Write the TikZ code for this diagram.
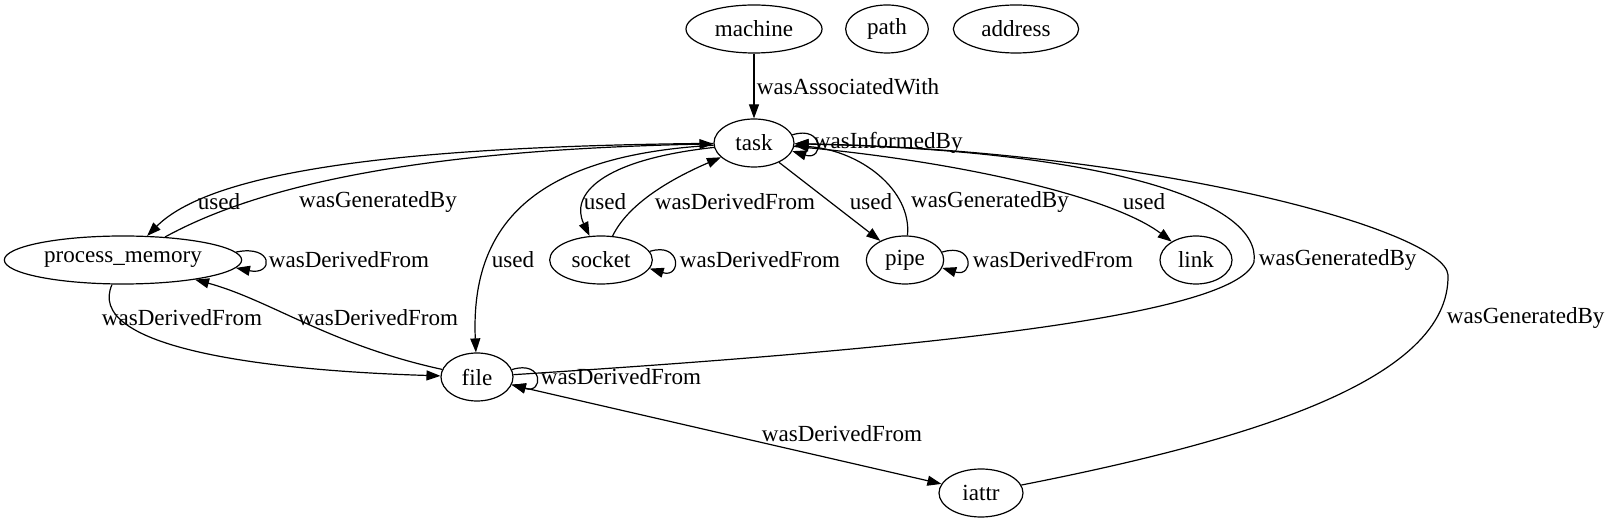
\documentclass[tikz,border=0pt]{standalone}
\usepackage{fontspec}
\setmainfont{Liberation Serif}
\usetikzlibrary{arrows.meta,shapes.geometric}

\begin{document}
\begin{tikzpicture}[x=0.75pt, y=-0.75pt,
    every node/.style={font=\fontsize{17.3pt}{20pt}\selectfont},
    ent/.style={draw, ellipse, inner sep=0pt, minimum height=36pt, line width=0.9pt},
    lbl/.style={inner sep=1pt},
    arr/.style={line width=0.9pt, -{Triangle[length=10.5pt, width=7.5pt]}},
    arrboth/.style={line width=0.9pt,
      {Triangle[length=10.5pt, width=7.5pt]}-{Triangle[length=10.5pt, width=7.5pt]}}]
  % Coordinate system: pixels of the rendered graph, y grows downwards.
  \useasboundingbox (0,0) rectangle (1613,523);

  % Entities
  \node[ent, minimum width=102pt] (machine) at (754,29) {machine};
  \node[ent, minimum width=62pt] (path) at (887,29) {path};
  \node[ent, minimum width=94pt] (address) at (1016,29) {address};
  \node[ent, minimum width=60pt] (task) at (754,143) {task};
  \node[ent, minimum width=178pt] (procmem) at (123,260) {process\_memory};
  \node[ent, minimum width=77pt] (socket) at (601,260) {socket};
  \node[ent, minimum width=58pt] (pipe) at (905,260) {pipe};
  \node[ent, minimum width=54pt] (link) at (1196,260) {link};
  \node[ent, minimum width=54pt] (file) at (477,377) {file};
  \node[ent, minimum width=63pt] (iattr) at (981,493) {iattr};

  % Edges out of task and into task
  \draw[arr] (machine) -- (task)
    node[lbl, anchor=west] (lAssoc) at (755,87) {wasAssociatedWith};
  \draw[arr] (task.12) .. controls +(32,-10) and +(32,10) .. (task.-12)
    node[lbl, anchor=west] (lInformed) at (812,143) {wasInformedBy};
  \draw[arr] (task) .. controls (420,146) and (215,168) .. (procmem)
    node[lbl] (lUsedPm) at (219,202) {used};
  \draw[arr] (procmem) .. controls (260,185) and (420,150) .. (task)
    node[lbl] (lGenPm) at (378,202) {wasGeneratedBy};
  \draw[arr] (task) .. controls (600,160) and (570,195) .. (socket)
    node[lbl] (lUsedSock) at (605,202) {used};
  \draw[arr] (socket) .. controls (630,200) and (680,175) .. (task)
    node[lbl] (lDerSock) at (735,202) {wasDerivedFrom};
  \draw[arr] (task) .. controls (540,155) and (470,220) .. (file)
    node[lbl] (lUsedFile) at (513,260) {used};
  \draw[arr] (task) -- (pipe)
    node[lbl] (lUsedPipe) at (871,202) {used};
  \draw[arr] (pipe) .. controls (912,190) and (860,150) .. (task)
    node[lbl] (lGenPipe) at (990,202) {wasGeneratedBy};
  \draw[arr] (task) .. controls (950,160) and (1110,195) .. (link)
    node[lbl] (lUsedLink) at (1144,202) {used};

  % Long returns into task
  \coordinate (fileBend) at (1254,262);
  \coordinate (iattrBend) at (1448,275);
  \draw[arr] (file) .. controls (900,350) and (1235,318) .. (fileBend)
    .. controls (1262,200) and (1100,150) .. (task)
    node[lbl, anchor=west] (lGenFile) at (1257,260) {wasGeneratedBy};
  \draw[arr] (iattr) .. controls (1250,440) and (1450,380) .. (iattrBend)
    .. controls (1445,230) and (1150,150) .. (task)
    node[lbl, anchor=west] (lGenIattr) at (1445,318) {wasGeneratedBy};

  % Derivations
  \draw[arr] (procmem.4) .. controls +(38,-8) and +(38,8) .. (procmem.-4)
    node[lbl, anchor=west] (lDerPm) at (267,260) {wasDerivedFrom};
  \draw[arr] (socket.10) .. controls +(32,-10) and +(32,10) .. (socket.-10)
    node[lbl, anchor=west] (lDerSockLoop) at (678,260) {wasDerivedFrom};
  \draw[arr] (pipe.12) .. controls +(32,-10) and +(32,10) .. (pipe.-12)
    node[lbl, anchor=west] (lDerPipe) at (971,260) {wasDerivedFrom};
  \draw[arr] (file.12) .. controls +(32,-10) and +(32,10) .. (file.-12)
    node[lbl, anchor=west] (lDerFileLoop) at (539,377) {wasDerivedFrom};
  \draw[arr] (procmem) .. controls (85,345) and (250,370) .. (file)
    node[lbl] (lDerPmFile) at (182,318) {wasDerivedFrom};
  \draw[arr] (file) .. controls (330,345) and (270,300) .. (procmem)
    node[lbl] (lDerFilePm) at (378,318) {wasDerivedFrom};
  \draw[arrboth] (file) -- (iattr)
    node[lbl] (lDerIattr) at (842,434) {wasDerivedFrom};
\end{tikzpicture}
\end{document}
